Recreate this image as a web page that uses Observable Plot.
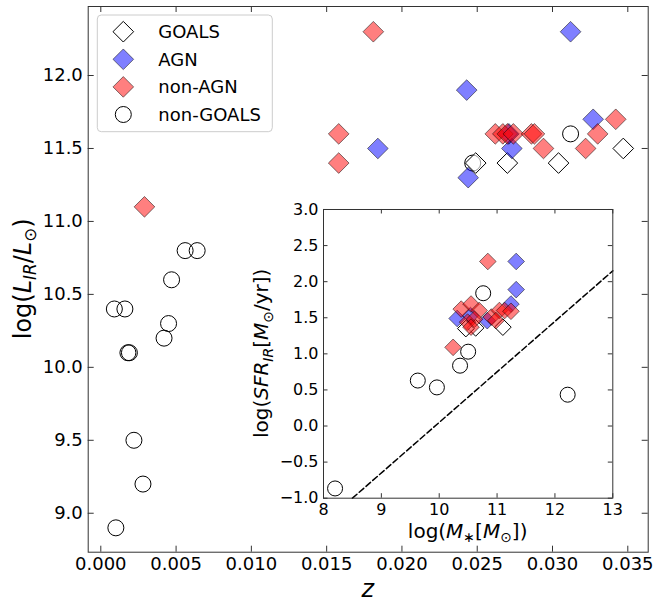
<!DOCTYPE html>
<html><head><meta charset="utf-8">
<script src="https://cdn.jsdelivr.net/npm/d3@7"></script>
<script src="https://cdn.jsdelivr.net/npm/@observablehq/plot@0.6"></script>
<style>
body{margin:0;background:white;font-family:"DejaVu Sans";}
#wrap{position:relative;width:653px;height:602px;}
#wrap svg{position:absolute;}
</style></head><body><div id="wrap"></div>
<script>
// ---------------- data: main panel (redshift z vs log L_IR) ----------------
const goalsZ    = [0.0249, 0.0270, 0.0304, 0.0347];
const goalsLIR  = [11.4, 11.4, 11.4, 11.5];
const agnZ      = [0.0312, 0.0243, 0.0184, 0.0244, 0.0273, 0.0271, 0.0327];
const agnLIR    = [12.3, 11.9, 11.5, 11.3, 11.5, 11.6, 11.7];
const nonAgnZ   = [0.0181, 0.0158, 0.0158, 0.0029, 0.0262, 0.0267, 0.0270, 0.0274, 0.0286, 0.0288, 0.0294, 0.0322, 0.0330, 0.0342];
const nonAgnLIR = [12.3, 11.6, 11.4, 11.1, 11.6, 11.6, 11.6, 11.6, 11.6, 11.6, 11.5, 11.5, 11.6, 11.7];
const nonGoalsZ   = [0.0247, 0.0312, 0.0056, 0.0064, 0.0047, 0.0009, 0.0016, 0.0045, 0.0042, 0.0018, 0.0019, 0.0022, 0.0028, 0.0010];
const nonGoalsLIR = [11.4, 11.6, 10.8, 10.8, 10.6, 10.4, 10.4, 10.3, 10.2, 10.1, 10.1, 9.5, 9.2, 8.9];
const zTicks   = [0, 0.005, 0.010, 0.015, 0.020, 0.025, 0.030, 0.035];
const lirTicks = [9.0, 9.5, 10.0, 10.5, 11.0, 11.5, 12.0];

// ---------------- data: inset (log M* vs log SFR_IR) ----------------
const inGoalsM   = [11.10, 10.63, 10.46];
const inGoalsS   = [1.37, 1.36, 1.35];
const inAgnM     = [11.33, 11.33, 11.24, 10.31, 10.54, 10.83];
const inAgnS     = [2.28, 1.89, 1.69, 1.49, 1.53, 1.46];
const inNonAgnM  = [10.84, 10.24, 10.38, 10.55, 10.69, 10.49, 10.61, 10.90, 11.04, 11.13, 11.24, 10.55, 10.98];
const inNonAgnS  = [2.28, 1.09, 1.62, 1.69, 1.60, 1.44, 1.48, 1.51, 1.60, 1.60, 1.59, 1.37, 1.46];
const inNonGoalsM = [8.20, 9.63, 9.96, 10.36, 10.50, 10.76, 12.22];
const inNonGoalsS = [-0.865, 0.63, 0.535, 0.836, 1.03, 1.84, 0.434];
const lineM = [8.5, 13.0];
const lineS = [-1.0, 2.15];
const mTicks = [8, 9, 10, 11, 12, 13];
const sTicks = [-1.0, -0.5, 0.0, 0.5, 1.0, 1.5, 2.0, 2.5, 3.0];

const legendLabels = ["GOALS", "AGN", "non-AGN", "non-GOALS"];

// ---------------- helpers ----------------
const zip = (xs, ys) => xs.map((x, i) => ({x, y: ys[i]}));
const fmt3 = d3.format(".3f"), fmt1 = d3.format(".1f");
const edge = "#333";

function richText(sel, parts, size) {
  let shift = 0;
  for (const [t, st] of parts) {
    const sub = st.includes("s");
    const target = sub ? size * 0.22 : 0;
    const ts = sel.append("tspan").text(t)
      .attr("font-style", st.includes("i") ? "italic" : "normal")
      .attr("font-size", sub ? size * 0.7 : size);
    const dy = target - shift;
    if (dy) ts.attr("dy", dy);
    shift = target;
  }
}

function markers(data, kind, r) {
  const base = {x: "x", y: "y"};
  if (kind === "circle") return Plot.dot(data, {...base, r: r, fill: "none", stroke: "black", strokeWidth: 1});
  if (kind === "goals") return Plot.dot(data, {...base, r: r, symbol: "diamond2", fill: "white", fillOpacity: 0.6, stroke: "black", strokeWidth: 1});
  const c = kind === "agn" ? "blue" : "red";
  return Plot.dot(data, {...base, r: r, symbol: "diamond2", fill: c, fillOpacity: 0.5, stroke: "black", strokeOpacity: 0.5, strokeWidth: 1});
}

// ---------------- main panel ----------------
const W = 653, H = 602;
const mL = 87.7, mR = 5.3, mT = 6, mB = 50.3;
const iW = W - mL - mR, iH = H - mT - mB;
const tk = 6;

const main = Plot.plot({
  width: W, height: H,
  marginLeft: mL, marginRight: mR, marginTop: mT, marginBottom: mB,
  x: {domain: [-0.000837, 0.036355]},
  y: {domain: [8.733, 12.473]},
  style: {fontFamily: "DejaVu Sans", fontSize: "18px", color: "black", background: "transparent", overflow: "visible"},
  marks: [
    Plot.axisX(zTicks, {tickSize: 0, tickPadding: 5, tickFormat: fmt3, label: null}),
    Plot.axisY(lirTicks, {tickSize: 0, tickPadding: 5.4, tickFormat: fmt1, label: null}),
    Plot.tickX(zTicks, {x: d => d, insetTop: iH - tk, stroke: edge}),
    Plot.tickX(zTicks, {x: d => d, insetBottom: iH - tk, stroke: edge}),
    Plot.tickY(lirTicks, {y: d => d, insetRight: iW - tk, stroke: edge}),
    Plot.tickY(lirTicks, {y: d => d, insetLeft: iW - tk, stroke: edge}),
    markers(zip(nonGoalsZ, nonGoalsLIR), "circle", 8),
    markers(zip(goalsZ, goalsLIR), "goals", 9.3),
    markers(zip(agnZ, agnLIR), "agn", 9.3),
    markers(zip(nonAgnZ, nonAgnLIR), "nonagn", 9.3),
    Plot.frame({stroke: edge, strokeWidth: 1})
  ]
});
main.style.left = "0px"; main.style.top = "0px";
document.getElementById("wrap").appendChild(main);

const ms = d3.select(main);
// axis labels
const yl = ms.append("text")
  .attr("transform", `translate(31,${mT + iH / 2}) rotate(-90)`)
  .attr("text-anchor", "middle").attr("font-family", "DejaVu Sans").attr("fill", "black");
richText(yl, [["log(", ""], ["L", "i"], ["IR", "is"], ["/", ""], ["L", "i"], ["⊙", "s"], [")", ""]], 24);
const xl = ms.append("text")
  .attr("x", mL + iW / 2).attr("y", 597)
  .attr("text-anchor", "middle").attr("font-family", "DejaVu Sans").attr("fill", "black");
richText(xl, [["z", "i"]], 24);

// legend
const lg = ms.append("g").attr("transform", "translate(97.3,15)");
lg.append("rect").attr("width", 175).attr("height", 116.7).attr("rx", 4)
  .attr("fill", "white").attr("fill-opacity", 0.8).attr("stroke", "#cccccc").attr("stroke-width", 1);
const legStyles = [
  {sym: d3.symbolDiamond2, r: 9.3, fill: "white", fo: 1, stroke: "black", so: 1},
  {sym: d3.symbolDiamond2, r: 9.3, fill: "blue", fo: 0.5, stroke: "black", so: 0.5},
  {sym: d3.symbolDiamond2, r: 9.3, fill: "red", fo: 0.5, stroke: "black", so: 0.5},
  {sym: d3.symbolCircle, r: 8, fill: "none", fo: 1, stroke: "black", so: 1}
];
legendLabels.forEach((lab, i) => {
  const s = legStyles[i];
  const cy = 16.7 + i * 27.6;
  lg.append("path").attr("transform", `translate(26,${cy})`)
    .attr("d", d3.symbol(s.sym, Math.PI * s.r * s.r)())
    .attr("fill", s.fill).attr("fill-opacity", s.fo)
    .attr("stroke", s.stroke).attr("stroke-opacity", s.so).attr("stroke-width", 1);
  lg.append("text").attr("x", 61).attr("y", cy).attr("dy", "0.36em")
    .attr("text-anchor", "start")
    .attr("font-family", "DejaVu Sans").attr("font-size", 18).attr("fill", "black").text(lab);
});

// ---------------- inset panel ----------------
const fL = 322.7, fT = 209, fR = 612, fB = 497.7;
const IL = 70, IR = 12, IT = 12, IB = 50;
const inW = fR - fL, inH = fB - fT;
const itk = 4.5;
const inset = Plot.plot({
  width: IL + inW + IR, height: IT + inH + IB,
  marginLeft: IL, marginRight: IR, marginTop: IT, marginBottom: IB,
  x: {domain: [8, 13]},
  y: {domain: [-1, 3]},
  style: {fontFamily: "DejaVu Sans", fontSize: "16px", color: "black", background: "transparent", overflow: "visible"},
  marks: [
    Plot.axisX(mTicks, {tickSize: 0, tickPadding: 5, tickFormat: d => String(d), label: null}),
    Plot.axisY(sTicks, {tickSize: 0, tickPadding: 5, tickFormat: fmt1, label: null}),
    Plot.tickX(mTicks, {x: d => d, insetTop: inH - itk, stroke: edge}),
    Plot.tickX(mTicks, {x: d => d, insetBottom: inH - itk, stroke: edge}),
    Plot.tickY(sTicks, {y: d => d, insetRight: inW - itk, stroke: edge}),
    Plot.tickY(sTicks, {y: d => d, insetLeft: inW - itk, stroke: edge}),
    markers(zip(inNonGoalsM, inNonGoalsS), "circle", 7.5),
    markers(zip(inGoalsM, inGoalsS), "goals", 7.5),
    markers(zip(inAgnM, inAgnS), "agn", 7.5),
    markers(zip(inNonAgnM, inNonAgnS), "nonagn", 7.5),
    Plot.line(zip(lineM, lineS), {x: "x", y: "y", stroke: "black", strokeWidth: 1.5, strokeDasharray: "6,3"}),
    Plot.frame({stroke: edge, strokeWidth: 1})
  ]
});
inset.style.left = (fL - IL) + "px"; inset.style.top = (fT - IT) + "px";
document.getElementById("wrap").appendChild(inset);

const is = d3.select(inset);
const iyl = is.append("text")
  .attr("transform", `translate(${268 - (fL - IL)},${IT + inH / 2}) rotate(-90)`)
  .attr("text-anchor", "middle").attr("font-family", "DejaVu Sans").attr("fill", "black");
richText(iyl, [["log(", ""], ["SFR", "i"], ["IR", "is"], ["[", ""], ["M", "i"], ["⊙", "s"], ["/yr])", ""]], 20);
const ixl = is.append("text")
  .attr("x", IL + inW / 2).attr("y", 538 - (fT - IT))
  .attr("text-anchor", "middle").attr("font-family", "DejaVu Sans").attr("fill", "black");
richText(ixl, [["log(", ""], ["M", "i"], ["∗", "s"], ["[", ""], ["M", "i"], ["⊙", "s"], ["])", ""]], 20);
</script>
</body></html>
